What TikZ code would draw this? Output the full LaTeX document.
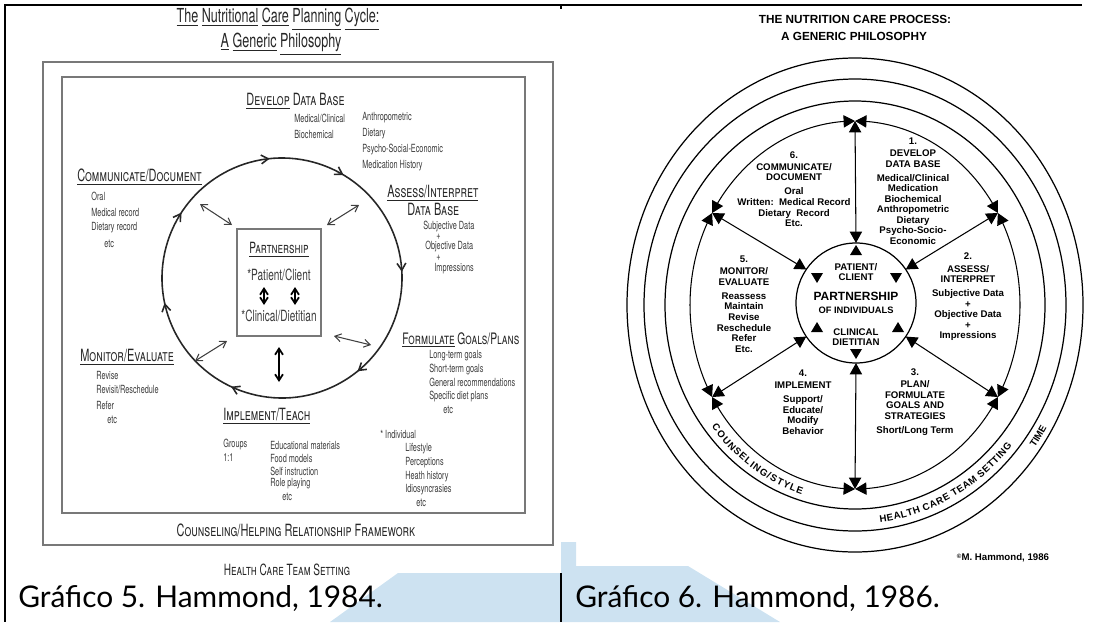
\documentclass[tikz,border=0pt]{standalone}
\usepackage{fontspec}
\usepackage{tikz}
\usetikzlibrary{calc}
\usetikzlibrary{arrows.meta,bending}
\usetikzlibrary{decorations.markings,decorations.text}

\newfontfamily\handfont{TeX Gyre Heros}[FakeStretch=0.65]
\newfontfamily\procfont{Liberation Sans}
\newfontfamily\capfont{Lato}

\definecolor{capblue}{RGB}{205,226,241}
\definecolor{pencil}{RGB}{60,60,60}
\definecolor{boxgray}{RGB}{120,120,120}

\newcommand{\uword}[1]{\underline{#1}}

\tikzset{
  handitem/.style={font=\handfont\fontsize{6.4}{7}\selectfont, text=pencil, inner sep=0pt, anchor=west},
  handhead/.style={font=\handfont\scshape\fontsize{9.6}{10}\selectfont, text=black!85, inner sep=0pt, anchor=west},
  twoway/.style={{Straight Barb[length=3.5pt,width=4.5pt]}-{Straight Barb[length=3.5pt,width=4.5pt]}, line width=0.6pt, draw=black!75},
  proctext/.style={font=\procfont\bfseries\fontsize{5.5}{6}\selectfont, inner sep=0pt, align=center},
  trihead/.style={{Triangle[length=6.5pt,width=7pt]}-{Triangle[length=6.5pt,width=7pt]}, line width=0.6pt},
  ringline/.style={line width=0.7pt},
}

\begin{document}
\begin{tikzpicture}[x=0.02cm, y=-0.02cm]
\useasboundingbox (0,0) rectangle (1094,622);

% Background band
\fill[capblue] (330,622) -- (398,573) -- (561,573) -- (561,542) -- (576,542)
  -- (576,566) -- (688,566) -- (780,622) -- cycle;

% ---------------- Hammond 1984 ----------------
\draw[boxgray, line width=0.8pt] (43,62) rectangle (553,545);
\draw[boxgray, line width=0.8pt] (62,77) rectangle (525,513);

\node[font=\handfont\fontsize{11}{12}\selectfont, text=black!85, inner sep=0pt] (title1) at (278,19)
  {\uword{The} \uword{Nutritional} \uword{Care} \uword{Planning} \uword{Cycle:}};
\node[font=\handfont\fontsize{11}{12}\selectfont, text=black!85, inner sep=0pt] (title2) at (281,44)
  {\uword{A} \uword{Generic} \uword{Philosophy}};

% Cycle
\begin{scope}[shift={(282,278)}, yscale=-1]
\draw[black!85, line width=0.9pt, postaction={decorate}, decoration={markings,
    mark=at position 0.067 with {\arrow{Straight Barb[length=4pt,width=5pt]}},
    mark=at position 0.169 with {\arrow{Straight Barb[length=4pt,width=5pt]}},
    mark=at position 0.325 with {\arrow{Straight Barb[length=4pt,width=5pt]}},
    mark=at position 0.475 with {\arrow{Straight Barb[length=4pt,width=5pt]}},
    mark=at position 0.653 with {\arrow{Straight Barb[length=4pt,width=5pt]}},
    mark=at position 0.800 with {\arrow{Straight Barb[length=4pt,width=5pt]}},
    mark=at position 0.925 with {\arrow{Straight Barb[length=4pt,width=5pt]}}}]
  (120:120) arc[start angle=120, end angle=-240, radius=120];
\end{scope}

% Partnership box
\draw[boxgray, line width=0.7pt] (237,229) rectangle (321,336);
\node[handhead, anchor=center, font=\handfont\scshape\fontsize{8.8}{9}\selectfont] (partner) at (279,250) {\uword{Partnership}};
\node[handitem, anchor=center, font=\handfont\fontsize{8.8}{9}\selectfont] (patient) at (279,275) {*Patient/Client};
\node[handitem, anchor=center, font=\handfont\fontsize{8.8}{9}\selectfont] (dietitian) at (279,316) {*Clinical/Dietitian};
\coordinate (pa) at (264,287); \coordinate (pb) at (264,305);
\coordinate (pc) at (295,287); \coordinate (pd) at (295,305);
\draw[twoway, line width=1pt, draw=black] (pa) -- (pb);
\draw[twoway, line width=1pt, draw=black] (pc) -- (pd);

% Spokes
\coordinate (ul1) at (200,204); \coordinate (ul2) at (232,225);
\coordinate (ur1) at (359,205); \coordinate (ur2) at (327,225);
\coordinate (rr1) at (334,336); \coordinate (rr2) at (371,345);
\coordinate (ll1) at (227,341); \coordinate (ll2) at (195,361);
\coordinate (bb1) at (279,347); \coordinate (bb2) at (279,382);
\draw[twoway] (ul1) -- (ul2);
\draw[twoway] (ur1) -- (ur2);
\draw[twoway] (rr1) -- (rr2);
\draw[twoway] (ll1) -- (ll2);
\draw[twoway, line width=1pt, draw=black] (bb1) -- (bb2);

% Develop
\node[handhead] (develop) at (246,101) {\uword{Develop} Data Base};
\foreach \t [count=\i] in {Medical/Clinical, Biochemical}
  \node[handitem] (devA\i) at (294,{118+(\i-1)*16}) {\t};
\foreach \t [count=\i] in {Anthropometric, Dietary, Psycho-Social-Economic, Medication History}
  \node[handitem] (devB\i) at (362,{118+(\i-1)*16}) {\t};

% Communicate
\node[handhead] (comm) at (77,177) {\uword{Communicate/Document}};
\foreach \t [count=\i] in {Oral, Medical record, Dietary record}
  \node[handitem] (comm\i) at (91,{196+(\i-1)*16}) {\t};
\node[handitem] (commetc) at (104,244) {etc};

% Assess
\node[handhead] (assess) at (387,193) {\uword{Assess/Interpret}};
\node[handhead] (assessdb) at (407,209) {Data Base};
\node[handitem] (subj) at (423,227) {Subjective Data};
\node[handitem] (plusa) at (436,237) {+};
\node[handitem] (obj) at (425,247) {Objective Data};
\node[handitem] (plusb) at (436,258) {+};
\node[handitem] (impr) at (434,269) {Impressions};

% Formulate
\node[handhead, font=\handfont\scshape\fontsize{9}{10}\selectfont] (form) at (402,340) {\uword{Formulate} Goals/Plans};
\foreach \t [count=\i] in {Long-term goals, Short-term goals, General recommendations, Specific diet plans}
  \node[handitem] (form\i) at (429,{356+(\i-1)*13.4}) {\t};
\node[handitem] (formetc) at (443,410) {etc};

% Monitor
\node[handhead] (mon) at (80,357) {\uword{Monitor/Evaluate}};
\foreach \t [count=\i] in {Revise, Revisit/Reschedule, Refer}
  \node[handitem] (mon\i) at (96,{375+(\i-1)*15}) {\t};
\node[handitem] (monetc) at (107,420) {etc};

% Implement
\node[handhead] (impl) at (223,416) {\uword{Implement/Teach}};
\node[handitem] (groups) at (223,445) {Groups};
\node[handitem] (oneone) at (223,458) {1:1};
\foreach \t [count=\i] in {Educational materials, Food models, Self instruction, Role playing}
  \node[handitem] (impl\i) at (270,{445+(\i-1)*13}) {\t};
\node[handitem] (impletc) at (282,497) {etc};
\node[handitem] (indiv) at (380,434) {* Individual};
\foreach \t [count=\i] in {Lifestyle, Perceptions, Heath history, Idiosyncrasies}
  \node[handitem] (indiv\i) at (405,{449+(\i-1)*13.7}) {\t};
\node[handitem] (indivetc) at (416,503) {etc};

\node[handhead, anchor=center] (counsel) at (296,530) {Counseling/Helping Relationship Framework};
\node[handhead, anchor=center, font=\handfont\scshape\fontsize{8.8}{9}\selectfont] (setting) at (287,570) {Health Care Team Setting};

% ---------------- Hammond 1986 ----------------
\node[proctext, font=\procfont\bfseries\fontsize{6.7}{7}\selectfont] (ptitle1) at (855,19) {THE NUTRITION CARE PROCESS:};
\node[proctext, font=\procfont\bfseries\fontsize{6.7}{7}\selectfont] (ptitle2) at (854,36) {A GENERIC PHILOSOPHY};

\begin{scope}[shift={(855,305)}, yscale=-1]
  \draw[ringline] (0,0) ellipse[x radius=190, y radius=204];
  \draw[ringline] (0,0) ellipse[x radius=211, y radius=226];
  \draw[ringline] (0,0) ellipse[x radius=228, y radius=247];
  \draw[ringline] (1,2) circle[radius=60];
  \foreach \a [count=\k] in {90,30,-30,-90,-150,150}
    \coordinate (r\k) at ({165*cos(\a)},{184*sin(\a)});
  \foreach \a [count=\k] in {90,34,-34,-90,-146,146}
    \coordinate (i\k) at ($(1,2)+(\a:60)$);
  % ring arcs
  \foreach \a [count=\k] in {90,30,-30,-90,-150,-210}
    \draw[trihead] (r\k) arc[start angle=\a, end angle={\a-60}, x radius=165, y radius=184];
  % spokes
  \foreach \k in {1,...,6}
    \draw[trihead] (i\k) -- (r\k);
  % wedges inside the partnership circle
  \foreach \p in {(1,55),(-38,-22),(43,-22)}
    \fill \p ++(0,5) -- ++(-6,-10) -- ++(12,0) -- cycle;
  \foreach \p in {(1,-49),(-38,27),(41,27)}
    \fill \p ++(0,-5) -- ++(-6,10) -- ++(12,0) -- cycle;
\end{scope}

\node[proctext] (develop2) at (913,191) {1.\\[1pt] DEVELOP\\ DATA BASE\\[2pt] Medical/Clinical\\ Medication\\ Biochemical\\ Anthropometric\\ Dietary\\ Psycho-Socio-\\ Economic};
\node[proctext] (assess2) at (968,297) {2.\\[1pt] ASSESS/\\ INTERPRET\\[2pt] Subjective Data\\ +\\ Objective Data\\ +\\ Impressions};
\node[proctext] (plan2) at (915,402) {3.\\[1pt] PLAN/\\ FORMULATE\\ GOALS AND\\ STRATEGIES\\[2pt] Short/Long Term};
\node[proctext] (impl2) at (803,402) {4.\\[1pt] IMPLEMENT\\[2pt] Support/\\ Educate/\\ Modify\\ Behavior};
\node[proctext] (monitor2) at (744,304) {5.\\[1pt] MONITOR/\\ EVALUATE\\[2pt] Reassess\\ Maintain\\ Revise\\ Reschedule\\ Refer\\ Etc.};
\node[proctext] (comm2) at (794,189) {6.\\[1pt] COMMUNICATE/\\ DOCUMENT\\[2pt] Oral\\ Written:\ \ Medical Record\\ Dietary\ \ Record\\ Etc.};

\node[proctext] (patient2) at (856,272) {PATIENT/\\ CLIENT};
\node[proctext, font=\procfont\bfseries\fontsize{6.8}{7}\selectfont] (partner2) at (856,296) {PARTNERSHIP};
\node[proctext, font=\procfont\bfseries\fontsize{5.3}{6}\selectfont] (individ2) at (856,310) {OF INDIVIDUALS};
\node[proctext] (dietitian2) at (856,337) {CLINICAL\\ DIETITIAN};

% ring labels
\path[decorate, decoration={text along path, text align=fit to path,
    text={|\procfont\bfseries\fontsize{5.5}{6}\selectfont|COUNSELING/STYLE}}]
  ($(855,305)+({182*cos(218)},{-198*sin(218)})$) arc[start angle=-218, end angle=-253, x radius=182, y radius=198];
\path[decorate, decoration={text along path, text align=fit to path,
    text={|\procfont\bfseries\fontsize{5.5}{6}\selectfont|HEALTH CARE TEAM SETTING}}]
  ($(855,305)+({205*cos(277)},{-219*sin(277)})$) arc[start angle=-277, end angle=-320, x radius=205, y radius=219];
\path[decorate, decoration={text along path, text align=center,
    text={|\procfont\bfseries\fontsize{5.5}{6}\selectfont|TIME}}]
  ($(855,305)+({223*cos(320)},{-241*sin(320)})$) arc[start angle=-320, end angle=-333, x radius=223, y radius=241];

\node[proctext] (copyr) at (1003,558) {{\fontsize{3.5}{4}\selectfont\raisebox{1.5pt}{©}}M. Hammond, 1986};

% ---------------- frame and captions ----------------
\draw[line width=1.4pt] (4,5) -- (1082,5);
\draw[line width=1.4pt] (5,5) -- (5,622);
\draw[line width=1.1pt] (561,573) -- (561,622);
\draw[line width=1.1pt] (561,5) -- (561,9);

\node[font=\capfont\fontsize{17}{20}\selectfont, anchor=base west, inner sep=0pt] (cap5) at (18,607) {Gráfico 5. Hammond, 1984.};
\node[font=\capfont\fontsize{17}{20}\selectfont, anchor=base west, inner sep=0pt] (cap6) at (575,607) {Gráfico 6. Hammond, 1986.};

\end{tikzpicture}
\end{document}
